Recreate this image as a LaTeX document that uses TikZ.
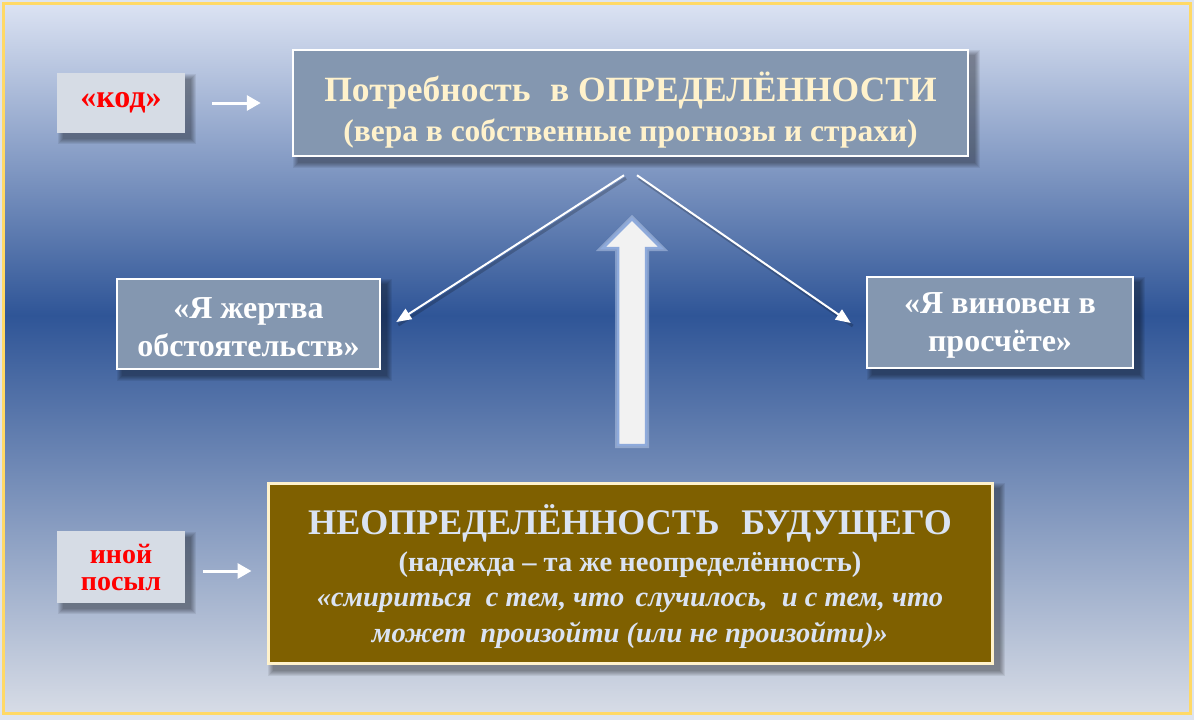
\documentclass[tikz,border=0pt]{standalone}
\usepackage{fontspec}
\setmainfont{Liberation Serif}
\usetikzlibrary{arrows.meta,calc}
\definecolor{bgtop}{HTML}{DCE3F3}
\definecolor{bgmid}{HTML}{2F5597}
\definecolor{bgbot}{HTML}{D7DCE6}
\definecolor{outerbg}{HTML}{DEE4EF}
\definecolor{frameY}{HTML}{FFD966}
\definecolor{slate}{HTML}{8497B0}
\definecolor{cream}{HTML}{FFF2CC}
\definecolor{olive}{HTML}{7F6000}
\definecolor{paleblue}{HTML}{DAE3F3}
\definecolor{lightgray}{HTML}{D6DCE5}
\definecolor{arrowedge}{HTML}{8EAADB}
\definecolor{redtxt}{HTML}{FF0000}
\pgfdeclareverticalshading{bgshade}{100bp}{color(0bp)=(bgbot); color(25bp)=(bgbot); color(53bp)=(bgmid); color(75bp)=(bgtop); color(100bp)=(bgtop)}
\pgfdeclarelayer{bglayer}
\pgfdeclarelayer{shadlayer}
\pgfsetlayers{bglayer,shadlayer,main}
\newcommand\boxshadow[1]{%
  \begin{pgfonlayer}{shadlayer}
  \foreach \d in {0,1,...,5}{%
    \fill[black,opacity=0.07] ($(#1.south west)+(6-\d,6+\d)$) rectangle ($(#1.north east)+(6+\d,6-\d)$);}
  \end{pgfonlayer}}
\begin{document}
\begin{tikzpicture}[x=1pt,y=-1pt,
  slatebox/.style={draw=white,line width=2.5pt,fill=slate,inner sep=0pt,align=center},
  graybox/.style={fill=lightgray,inner sep=0pt,align=center,text=redtxt},
  oliveBox/.style={draw=cream,line width=3pt,fill=olive,inner sep=0pt,align=center,text=paleblue},
  smallarrow/.style={draw=white,line width=3pt,-{Triangle[length=14pt,width=15pt]}},
  thinarrow/.style={draw=white,line width=2pt,-{Triangle[length=15pt,width=12pt]}}]
\useasboundingbox (0,0) rectangle (1194,720);
\begin{pgfonlayer}{bglayer}
\fill[outerbg] (0,0) rectangle (1194,720);
\shade[shading=bgshade] (3,3) rectangle (1190,713);
\draw[frameY,line width=3pt] (3,3) rectangle (1190,713);
\end{pgfonlayer}

% nodes
\node[graybox,minimum width=128,minimum height=60,font=\bfseries\fontsize{32}{36}\selectfont] (kod) at (121,103)
  {«код»};
\node[slatebox,minimum width=675,minimum height=106,text=cream,font=\bfseries\fontsize{31.5}{40}\selectfont] (top) at (630.5,103)
  {{\fontsize{35.5}{40}\selectfont\rule{0pt}{44pt}Потребность\hspace{0.3em} в ОПРЕДЕЛЁННОСТИ}\\
   (вера в собственные прогнозы и страхи)};
\node[slatebox,minimum width=263,minimum height=90,font=\bfseries\fontsize{32}{38}\selectfont,text=white] (lb) at (248.5,324)
  {\rule{0pt}{27pt}«Я жертва\\обстоятельств»};
\node[slatebox,minimum width=266,minimum height=91,font=\bfseries\fontsize{32}{38}\selectfont,text=white] (rb) at (1000,322.5)
  {\rule{0pt}{27pt}«Я виновен в\\просчёте»};
\node[oliveBox,minimum width=724,minimum height=180,font=\bfseries\fontsize{28.5}{35.5}\selectfont] (bot) at (630,573)
  {{\fontsize{36}{36}\selectfont\rule{0pt}{37pt}НЕОПРЕДЕЛЁННОСТЬ\hspace{0.35em} БУДУЩЕГО}\\[1.5pt]
   (надежда – та же неопределённость)\\
   {\itshape «смириться\hspace{0.25em} с тем, что\hspace{0.15em} случилось,\hspace{0.25em} и с тем, что}\\
   {\itshape может\hspace{0.25em} произойти (или не произойти)»}};
\node[graybox,minimum width=128,minimum height=72,font=\bfseries\fontsize{28}{27}\selectfont] (inoy) at (121,567)
  {иной\\посыл};

\boxshadow{kod}
\boxshadow{top}
\boxshadow{lb}
\boxshadow{rb}
\boxshadow{bot}
\boxshadow{inoy}

% connectors
\coordinate (ls) at ($(top.south)+(-6.5,18)$);
\coordinate (le) at ($(lb.east)+(15,-2)$);
\coordinate (rs) at ($(top.south)+(6.5,18)$);
\coordinate (re) at ($(rb.west)+(-15,0.5)$);
\begin{pgfonlayer}{shadlayer}
\draw[black,opacity=0.2,line width=3pt] ($(ls)+(2,3)$) -- ($(le)+(2,3)$);
\draw[black,opacity=0.2,line width=3pt] ($(rs)+(2,3)$) -- ($(re)+(2,3)$);
\end{pgfonlayer}
\draw[thinarrow] (ls) -- (le);
\draw[thinarrow] (rs) -- (re);
\draw[smallarrow,shorten <=27pt,shorten >=31pt] (kod.east) -- (top.west);
\draw[smallarrow] ($(inoy.east)+(18,4)$) -- ($(bot.west)+(-15,-2)$);

% big block arrow
\draw[arrowedge!60,opacity=0.5,line width=6pt,line join=miter]
  (618,445) -- (618,248) -- (603,248) -- (632,219) -- (661,248) -- (646,248) -- (646,445) -- cycle;
\draw[fill=white!95!black,draw=arrowedge,line width=2.5pt,line join=miter]
  (618,445) -- (618,248) -- (603,248) -- (632,219) -- (661,248) -- (646,248) -- (646,445) -- cycle;
\end{tikzpicture}
\end{document}
